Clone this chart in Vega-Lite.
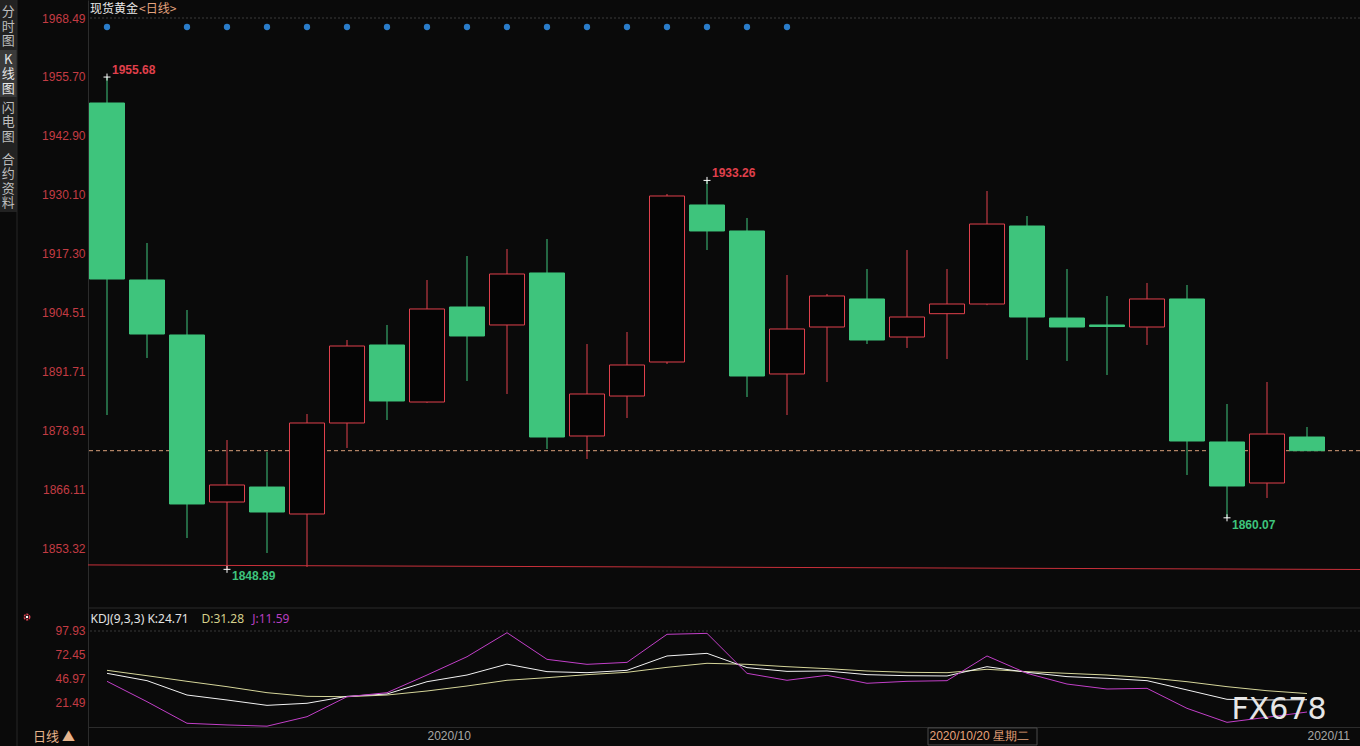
{
  "$schema": "https://vega.github.io/schema/vega-lite/v6.json",
  "autosize": {"type": "none"},
  "width": 1272,
  "height": 746,
  "padding": {"left": 88, "top": 0, "right": 0, "bottom": 0},
  "background": "#0a0a0a",
  "config": {
    "view": {"stroke": null},
    "font": "Liberation Sans",
    "axis": {"ticks": false, "grid": false, "domainColor": "#2c2c2c", "labelFontSize": 12, "labelFont": "Liberation Sans", "zindex": 2}
  },
  "datasets": {
    "bars": [
      {"i":0,"date":"2020-09-21","open":1950.05,"high":1955.68,"low":1882.37,"close":1911.87,"K":52.8,"D":56.0,"J":44.3},
      {"i":1,"date":"2020-09-22","open":1911.66,"high":1919.68,"low":1894.74,"close":1899.94,"K":45.0,"D":50.3,"J":22.6},
      {"i":2,"date":"2020-09-23","open":1899.73,"high":1905.15,"low":1855.69,"close":1863.07,"K":29.7,"D":44.3,"J":-0.4},
      {"i":3,"date":"2020-09-24","open":1863.50,"high":1876.95,"low":1848.89,"close":1867.19,"K":24.4,"D":38.6,"J":-2.2},
      {"i":4,"date":"2020-09-25","open":1866.75,"high":1874.35,"low":1852.44,"close":1861.33,"K":18.7,"D":32.2,"J":-3.5},
      {"i":5,"date":"2020-09-28","open":1860.90,"high":1882.59,"low":1849.40,"close":1880.64,"K":20.9,"D":28.3,"J":6.6},
      {"i":6,"date":"2020-09-29","open":1880.64,"high":1898.64,"low":1875.21,"close":1897.34,"K":28.3,"D":27.9,"J":27.9},
      {"i":7,"date":"2020-09-30","open":1897.56,"high":1901.90,"low":1881.29,"close":1885.41,"K":30.8,"D":29.7,"J":32.2},
      {"i":8,"date":"2020-10-01","open":1885.19,"high":1911.66,"low":1885.00,"close":1905.37,"K":43.9,"D":34.0,"J":51.0},
      {"i":9,"date":"2020-10-02","open":1905.80,"high":1916.86,"low":1889.75,"close":1899.51,"K":51.0,"D":39.3,"J":70.5},
      {"i":10,"date":"2020-10-05","open":1901.90,"high":1918.38,"low":1886.93,"close":1912.96,"K":62.6,"D":45.4,"J":96.1},
      {"i":11,"date":"2020-10-06","open":1913.18,"high":1920.55,"low":1875.00,"close":1877.60,"K":54.6,"D":48.2,"J":67.7},
      {"i":12,"date":"2020-10-07","open":1877.82,"high":1897.77,"low":1872.83,"close":1886.93,"K":53.5,"D":51.4,"J":62.4},
      {"i":13,"date":"2020-10-08","open":1886.49,"high":1900.38,"low":1881.72,"close":1893.22,"K":56.0,"D":53.9,"J":64.5},
      {"i":14,"date":"2020-10-09","open":1893.87,"high":1930.31,"low":1893.44,"close":1929.88,"K":71.3,"D":59.2,"J":94.4},
      {"i":15,"date":"2020-10-12","open":1927.93,"high":1933.26,"low":1918.16,"close":1922.29,"K":74.1,"D":63.5,"J":95.4},
      {"i":16,"date":"2020-10-13","open":1922.29,"high":1925.11,"low":1886.28,"close":1890.83,"K":58.9,"D":62.4,"J":52.8},
      {"i":17,"date":"2020-10-14","open":1891.27,"high":1912.74,"low":1882.37,"close":1901.03,"K":54.9,"D":59.9,"J":45.4},
      {"i":18,"date":"2020-10-15","open":1901.46,"high":1908.62,"low":1889.53,"close":1908.19,"K":55.3,"D":57.8,"J":50.7},
      {"i":19,"date":"2020-10-16","open":1907.54,"high":1914.04,"low":1897.77,"close":1898.64,"K":51.4,"D":55.3,"J":42.2},
      {"i":20,"date":"2020-10-19","open":1899.29,"high":1918.16,"low":1896.91,"close":1903.63,"K":50.3,"D":53.9,"J":44.3},
      {"i":21,"date":"2020-10-20","open":1904.35,"high":1914.04,"low":1894.52,"close":1906.45,"K":50.0,"D":53.5,"J":45.0},
      {"i":22,"date":"2020-10-21","open":1906.45,"high":1930.96,"low":1906.20,"close":1923.80,"K":59.9,"D":57.1,"J":71.3},
      {"i":23,"date":"2020-10-22","open":1923.37,"high":1925.54,"low":1894.30,"close":1903.63,"K":53.9,"D":54.6,"J":52.8},
      {"i":24,"date":"2020-10-23","open":1903.41,"high":1914.04,"low":1894.09,"close":1901.46,"K":49.3,"D":52.8,"J":41.4},
      {"i":25,"date":"2020-10-26","open":1901.90,"high":1908.19,"low":1891.05,"close":1901.57,"K":47.5,"D":51.0,"J":36.1},
      {"i":26,"date":"2020-10-27","open":1901.46,"high":1911.01,"low":1897.56,"close":1907.54,"K":45.0,"D":48.2,"J":36.8},
      {"i":27,"date":"2020-10-28","open":1907.54,"high":1910.57,"low":1869.36,"close":1876.73,"K":35.1,"D":43.9,"J":15.5},
      {"i":28,"date":"2020-10-29","open":1876.52,"high":1884.76,"low":1860.07,"close":1866.97,"K":25.1,"D":38.6,"J":0.6},
      {"i":29,"date":"2020-10-30","open":1867.62,"high":1889.53,"low":1864.37,"close":1878.25,"K":24.4,"D":34.3,"J":6.0},
      {"i":30,"date":"2020-11-02","open":1877.60,"high":1879.77,"low":1874.63,"close":1874.63,"K":24.71,"D":31.28,"J":11.59}
    ],
    "extremes": [
      {"i":0,"price":1955.68,"kind":"high"},
      {"i":15,"price":1933.26,"kind":"high"},
      {"i":3,"price":1848.89,"kind":"low"},
      {"i":28,"price":1860.07,"kind":"low"}
    ],
    "events": [
      {"i":0},{"i":2},{"i":3},{"i":4},{"i":5},{"i":6},{"i":7},{"i":8},{"i":9},
      {"i":10},{"i":11},{"i":12},{"i":13},{"i":14},{"i":15},{"i":16},{"i":17}
    ],
    "support": [
      {"i":-0.475,"price":1849.85},
      {"i":31.325,"price":1848.86}
    ]
  },
  "resolve": {"scale": {"y": "independent"}, "axis": {"y": "independent"}},
  "layer": [
    {
      "layer": [
        {
          "data": {"name": "bars"},
          "mark": {"type": "rule", "strokeWidth": 1},
          "encoding": {
            "x": {"field": "i", "type": "quantitative",
                  "scale": {"domain": [-0.475, 31.325], "nice": false, "zero": false, "padding": 0},
                  "axis": {"title": null, "orient": "bottom", "offset": -19, "values": [8, 20.55, 30],
                           "labelExpr": "datum.value < 10 ? '2020/10' : datum.value < 25 ? '2020/10/20 星期二' : '2020/11'",
                           "labelAlign": "left", "labelBaseline": "top", "labelPadding": 3,
                           "labelColor": {"condition": {"test": "datum.value > 15 && datum.value < 25", "value": "#e8a27a"}, "value": "#a8a8a8"}}},
            "y": {"field": "low", "type": "quantitative",
                  "scale": {"domain": [1810.572, 1972.395], "nice": false, "zero": false},
                  "axis": {"title": null, "orient": "left", "values": [1853.32, 1866.11, 1878.91, 1891.71, 1904.51, 1917.30, 1930.10, 1942.90, 1955.70, 1968.49],
                           "format": ".2f", "labelColor": "#c43c44", "labelPadding": 3}},
            "y2": {"field": "high"},
            "color": {"condition": {"test": "datum.close >= datum.open", "value": "#e0404c"}, "value": "#3ec47c"}
          }
        },
        {
          "data": {"values": [{}]},
          "mark": {"type": "rect", "fill": "#222222", "clip": false},
          "encoding": {"x": {"datum": -2.675, "type": "quantitative"}, "x2": {"datum": -2.25},
                       "y": {"datum": 1972.395, "type": "quantitative"}, "y2": {"datum": 1926.4}}
        },
        {
          "data": {"values": [{}]},
          "mark": {"type": "rect", "fill": "#3a3a3a", "clip": false},
          "encoding": {"x": {"datum": -2.675, "type": "quantitative"}, "x2": {"datum": -2.25},
                       "y": {"datum": 1961.55, "type": "quantitative"}, "y2": {"datum": 1951.35}}
        },
        {
          "data": {"values": [{}]},
          "mark": {"type": "text", "text": "分\n时\n图", "lineBreak": "\n", "lineHeight": 14.5, "font": "Noto Sans CJK SC", "fontSize": 13, "color": "#bdbdbd", "align": "center", "baseline": "middle", "clip": false},
          "encoding": {"x": {"datum": -2.47, "type": "quantitative"}, "y": {"datum": 1969.79, "type": "quantitative"}}
        },
        {
          "data": {"values": [{}]},
          "mark": {"type": "text", "text": "K\n线\n图", "lineBreak": "\n", "lineHeight": 14.5, "font": "Noto Sans CJK SC", "fontSize": 13, "color": "#e6e6e6", "align": "center", "baseline": "middle", "clip": false},
          "encoding": {"x": {"datum": -2.47, "type": "quantitative"}, "y": {"datum": 1959.38, "type": "quantitative"}}
        },
        {
          "data": {"values": [{}]},
          "mark": {"type": "text", "text": "闪\n电\n图", "lineBreak": "\n", "lineHeight": 14.5, "font": "Noto Sans CJK SC", "fontSize": 13, "color": "#bdbdbd", "align": "center", "baseline": "middle", "clip": false},
          "encoding": {"x": {"datum": -2.47, "type": "quantitative"}, "y": {"datum": 1948.97, "type": "quantitative"}}
        },
        {
          "data": {"values": [{}]},
          "mark": {"type": "text", "text": "合\n约\n资\n料", "lineBreak": "\n", "lineHeight": 14.5, "font": "Noto Sans CJK SC", "fontSize": 13, "color": "#bdbdbd", "align": "center", "baseline": "middle", "clip": false},
          "encoding": {"x": {"datum": -2.47, "type": "quantitative"}, "y": {"datum": 1937.69, "type": "quantitative"}}
        },
        {
          "data": {"values": [{}]},
          "mark": {"type": "rule", "stroke": "#262626", "clip": false},
          "encoding": {"x": {"datum": -2.25, "type": "quantitative"}}
        },
        {
          "data": {"values": [{}]},
          "mark": {"type": "rule", "stroke": "#3a3a3a", "strokeDash": [2, 2]},
          "encoding": {"y": {"datum": 1968.49, "type": "quantitative"}}
        },
        {
          "data": {"values": [{}]},
          "mark": {"type": "rule", "stroke": "#2c2c2c"},
          "encoding": {"y": {"datum": 1840.51, "type": "quantitative"}}
        },
        {
          "data": {"name": "support"},
          "mark": {"type": "line", "stroke": "#c8303a", "strokeWidth": 1},
          "encoding": {"x": {"field": "i", "type": "quantitative"}, "y": {"field": "price", "type": "quantitative"}}
        },
        {
          "data": {"values": [{}]},
          "mark": {"type": "rule", "stroke": "#d9a07c", "strokeDash": [4, 3]},
          "encoding": {"y": {"datum": 1874.63, "type": "quantitative"}}
        },
        {
          "data": {"name": "bars"},
          "mark": {"type": "bar", "size": 35, "strokeWidth": 1},
          "encoding": {
            "x": {"field": "i", "type": "quantitative"},
            "y": {"field": "open", "type": "quantitative"},
            "y2": {"field": "close"},
            "fill": {"condition": {"test": "datum.close >= datum.open", "value": "#050505"}, "value": "#3ec47c"},
            "stroke": {"condition": {"test": "datum.close >= datum.open", "value": "#e0404c"}, "value": "#3ec47c"}
          }
        },
        {
          "data": {"name": "extremes"},
          "mark": {"type": "point", "shape": "M-1,0L1,0M0,-1L0,1", "size": 49, "filled": false, "stroke": "#ffffff", "strokeWidth": 1, "opacity": 1},
          "encoding": {"x": {"field": "i", "type": "quantitative"}, "y": {"field": "price", "type": "quantitative"}}
        },
        {
          "data": {"name": "extremes"},
          "transform": [{"filter": "datum.kind == 'high'"}],
          "mark": {"type": "text", "align": "left", "baseline": "middle", "dx": 5, "dy": -7, "fontSize": 12, "fontWeight": "bold", "color": "#e0404c"},
          "encoding": {"x": {"field": "i", "type": "quantitative"}, "y": {"field": "price", "type": "quantitative"},
                       "text": {"field": "price", "type": "quantitative", "format": ".2f"}}
        },
        {
          "data": {"name": "extremes"},
          "transform": [{"filter": "datum.kind == 'low'"}],
          "mark": {"type": "text", "align": "left", "baseline": "middle", "dx": 5, "dy": 7, "fontSize": 12, "fontWeight": "bold", "color": "#3ec47c"},
          "encoding": {"x": {"field": "i", "type": "quantitative"}, "y": {"field": "price", "type": "quantitative"},
                       "text": {"field": "price", "type": "quantitative", "format": ".2f"}}
        },
        {
          "data": {"name": "events"},
          "mark": {"type": "point", "filled": true, "size": 40, "color": "#2a7cc9", "opacity": 1},
          "encoding": {"x": {"field": "i", "type": "quantitative"}, "y": {"datum": 1966.54, "type": "quantitative"}}
        },
        {
          "data": {"values": [{}]},
          "mark": {"type": "text", "text": "现货黄金", "font": "Noto Sans CJK SC", "fontSize": 12, "color": "#e8e8e8", "align": "left", "baseline": "middle"},
          "encoding": {"x": {"datum": -0.425, "type": "quantitative"}, "y": {"datum": 1970.4, "type": "quantitative"}}
        },
        {
          "data": {"values": [{}]},
          "mark": {"type": "text", "text": "<日线>", "font": "Noto Sans CJK SC", "fontSize": 12, "color": "#e3a37e", "align": "left", "baseline": "middle"},
          "encoding": {"x": {"datum": 0.8, "type": "quantitative"}, "y": {"datum": 1970.4, "type": "quantitative"}}
        }
      ]
    },
    {
      "layer": [
        {
          "data": {"name": "bars"},
          "transform": [{"fold": ["D", "K", "J"], "as": ["key", "value"]}],
          "mark": {"type": "line", "strokeWidth": 1},
          "encoding": {
            "x": {"field": "i", "type": "quantitative"},
            "y": {"field": "value", "type": "quantitative",
                  "scale": {"domain": [-24.62, 770.27], "nice": false, "zero": false},
                  "axis": {"title": null, "orient": "left", "domain": false, "values": [21.49, 46.97, 72.45, 97.93], "format": ".2f", "labelColor": "#c43c44", "labelPadding": 3}},
            "color": {"field": "key", "type": "nominal", "scale": {"domain": ["K", "D", "J"], "range": ["#f2f2f2", "#d6d69a", "#c23fc8"]}, "legend": null}
          }
        },
        {
          "data": {"values": [{}]},
          "mark": {"type": "rule", "stroke": "#3a3a3a", "strokeDash": [2, 2]},
          "encoding": {"y": {"datum": 97.93, "type": "quantitative"}}
        },
        {
          "data": {"values": [{}]},
          "mark": {"type": "text", "text": "KDJ(9,3,3) K:24.71", "font": "Noto Sans", "fontSize": 12, "color": "#e2e2e2", "align": "left", "baseline": "middle"},
          "encoding": {"x": {"datum": -0.41, "type": "quantitative"}, "y": {"datum": 110.4, "type": "quantitative"}}
        },
        {
          "data": {"values": [{}]},
          "mark": {"type": "text", "text": "D:31.28", "font": "Noto Sans", "fontSize": 12, "color": "#d4d08c", "align": "left", "baseline": "middle"},
          "encoding": {"x": {"datum": 2.36, "type": "quantitative"}, "y": {"datum": 110.4, "type": "quantitative"}}
        },
        {
          "data": {"values": [{}]},
          "mark": {"type": "text", "text": "J:11.59", "font": "Noto Sans", "fontSize": 12, "color": "#b83fc0", "align": "left", "baseline": "middle"},
          "encoding": {"x": {"datum": 3.63, "type": "quantitative"}, "y": {"datum": 110.4, "type": "quantitative"}}
        },
        {
          "data": {"values": [{}]},
          "mark": {"type": "point", "shape": "circle", "size": 30, "filled": false, "stroke": "#e04050", "strokeWidth": 1.5, "strokeDash": [2, 1], "clip": false, "opacity": 1},
          "encoding": {"x": {"datum": -2.0, "type": "quantitative"}, "y": {"datum": 112.8, "type": "quantitative"}}
        },
        {
          "data": {"values": [{}]},
          "mark": {"type": "point", "shape": "circle", "size": 6, "filled": true, "color": "#ffffff", "clip": false, "opacity": 1},
          "encoding": {"x": {"datum": -2.0, "type": "quantitative"}, "y": {"datum": 112.8, "type": "quantitative"}}
        },
        {
          "data": {"values": [{}]},
          "mark": {"type": "text", "text": "FX678", "font": "DejaVu Sans", "fontSize": 30, "color": "#e6e6e6", "align": "center", "baseline": "middle"},
          "encoding": {"x": {"datum": 29.3, "type": "quantitative"}, "y": {"datum": 13.7, "type": "quantitative"}}
        },
        {
          "data": {"values": [{}]},
          "mark": {"type": "text", "text": "日线 ▲", "font": "Noto Sans CJK SC", "fontSize": 13, "color": "#e6b48c", "align": "left", "baseline": "middle", "clip": false},
          "encoding": {"x": {"datum": -1.85, "type": "quantitative"}, "y": {"datum": -15.0, "type": "quantitative"}}
        },
        {
          "data": {"values": [{}]},
          "mark": {"type": "rect", "fillOpacity": 0, "stroke": "#4a4a4a", "strokeWidth": 1},
          "encoding": {"x": {"datum": 20.525, "type": "quantitative"}, "x2": {"datum": 23.25},
                       "y": {"datum": -5.4, "type": "quantitative"}, "y2": {"datum": -23.5}}
        }
      ]
    }
  ]
}
